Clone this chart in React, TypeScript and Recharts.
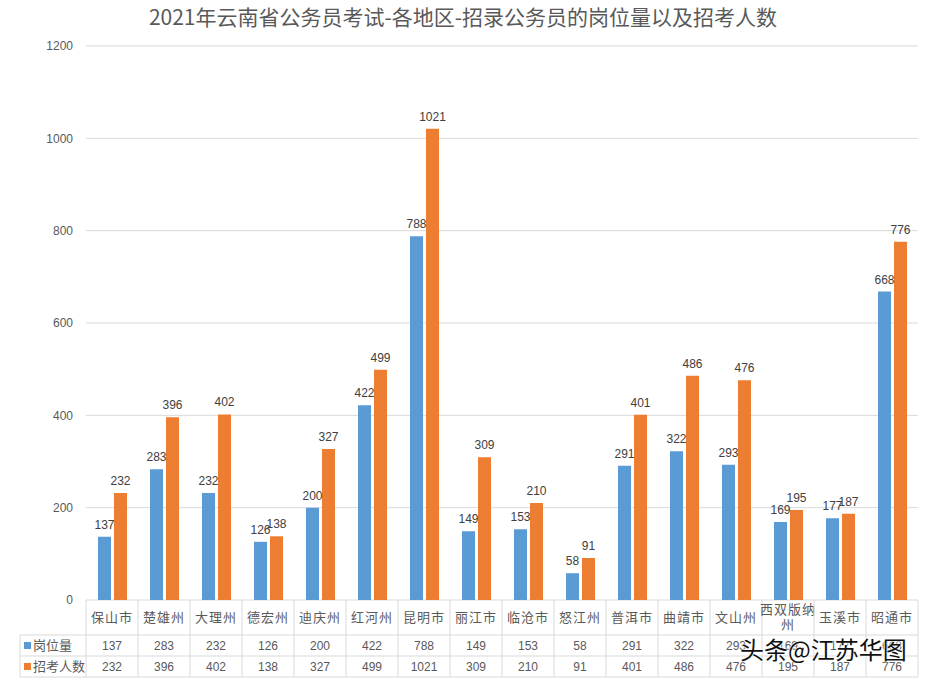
import React from "react";
import { BarChart, Bar, XAxis, YAxis, CartesianGrid, LabelList } from "recharts";

const regions = [
  "保山市", "楚雄州", "大理州", "德宏州", "迪庆州", "红河州", "昆明市", "丽江市",
  "临沧市", "怒江州", "普洱市", "曲靖市", "文山州", "西双版纳州", "玉溪市", "昭通市",
];
const posts = [137, 283, 232, 126, 200, 422, 788, 149, 153, 58, 291, 322, 293, 169, 177, 668];
const applicants = [232, 396, 402, 138, 327, 499, 1021, 309, 210, 91, 401, 486, 476, 195, 187, 776];
const yTicks = [0, 200, 400, 600, 800, 1000, 1200];

const data = regions.map((name, i) => ({ name, posts: posts[i], applicants: applicants[i] }));

const W = 926;
const H = 681;
const TOP = 46;
const LEFT = 86;
const RIGHT = 8;
const BOTTOM = 81;
const PLOT_W = W - LEFT - RIGHT;
const CELL = PLOT_W / regions.length;
const ROW_CAT = 35;
const ROW_VAL = 21;
const TABLE_LEFT = 20;

const BLUE = "#5B9BD5";
const ORANGE = "#ED7D31";
const LINE = "#D9D9D9";
const TEXT = "#595959";
const FONT = '"Noto Sans CJK SC", "Noto Sans", sans-serif';
const NUM_FONT = '"Liberation Sans", "Noto Sans", sans-serif';

function TableTick(props: any) {
  const { x, y, index, payload } = props;
  const name: string = payload.value;
  const left = x - CELL / 2;
  const right = x + CELL / 2;
  const yCat = y + ROW_CAT;
  const yPost = yCat + ROW_VAL;
  const yApp = yPost + ROW_VAL;
  const lines = name.length > 4 ? [name.slice(0, 4), name.slice(4)] : [name];

  return (
    <g>
      <line x1={left} y1={y} x2={left} y2={yApp} stroke={LINE} />
      {index === regions.length - 1 && <line x1={right} y1={y} x2={right} y2={yApp} stroke={LINE} />}
      {index === 0 && (
        <g>
          <line x1={TABLE_LEFT} y1={yCat} x2={W - RIGHT} y2={yCat} stroke={LINE} />
          <line x1={TABLE_LEFT} y1={yPost} x2={W - RIGHT} y2={yPost} stroke={LINE} />
          <line x1={TABLE_LEFT} y1={yApp} x2={W - RIGHT} y2={yApp} stroke={LINE} />
          <line x1={TABLE_LEFT} y1={yCat} x2={TABLE_LEFT} y2={yApp} stroke={LINE} />
          <rect x={24} y={yCat + 7} width={7} height={7} fill={BLUE} />
          <text x={33} y={yCat + 15} fill={TEXT} fontSize={13} fontFamily={FONT}>岗位量</text>
          <rect x={24} y={yPost + 7} width={7} height={7} fill={ORANGE} />
          <text x={33} y={yPost + 15} fill={TEXT} fontSize={13} fontFamily={FONT}>招考人数</text>
        </g>
      )}
      {lines.length === 1 ? (
        <text x={x} y={y + 22} textAnchor="middle" fill={TEXT} fontSize={13} fontFamily={FONT} letterSpacing={1}>
          {name}
        </text>
      ) : (
        lines.map((t, k) => (
          <text key={k} x={x} y={y + 14 + k * 15} textAnchor="middle" fill={TEXT} fontSize={13} fontFamily={FONT} letterSpacing={1}>
            {t}
          </text>
        ))
      )}
      <text x={x} y={yCat + 15} textAnchor="middle" fill={TEXT} fontSize={12} fontFamily={NUM_FONT}>
        {posts[index]}
      </text>
      <text x={x} y={yPost + 15} textAnchor="middle" fill={TEXT} fontSize={12} fontFamily={NUM_FONT}>
        {applicants[index]}
      </text>
    </g>
  );
}

export default function App() {
  return (
    <div style={{ position: "fixed", left: 0, top: 0, width: W, height: H, background: "#fff" }}>
      <div
        style={{
          position: "absolute",
          top: 3,
          left: 0,
          width: W,
          textAlign: "center",
          fontFamily: FONT,
          fontSize: 21,
          color: TEXT,
          lineHeight: "26px",
        }}
      >
        2021年云南省公务员考试-各地区-招录公务员的岗位量以及招考人数
      </div>
      <BarChart
        width={W}
        height={H}
        data={data}
        margin={{ top: TOP, right: RIGHT, bottom: 0, left: 0 }}
        barSize={13}
        barGap={3}
      >
        <CartesianGrid vertical={false} stroke={LINE} />
        <YAxis
          width={LEFT}
          domain={[0, 1200]}
          ticks={yTicks}
          axisLine={false}
          tickLine={false}
          tickMargin={7}
          tick={{ fill: TEXT, fontSize: 12, fontFamily: NUM_FONT }}
        />
        <XAxis
          dataKey="name"
          height={BOTTOM}
          interval={0}
          axisLine={false}
          tickLine={false}
          tickSize={0}
          tickMargin={0}
          tick={<TableTick />}
        />
        <Bar dataKey="posts" fill={BLUE} isAnimationActive={false}>
          <LabelList dataKey="posts" position="top" offset={8} fill="#404040" fontSize={12} fontFamily={NUM_FONT} />
        </Bar>
        <Bar dataKey="applicants" fill={ORANGE} isAnimationActive={false}>
          <LabelList dataKey="applicants" position="top" offset={8} fill="#404040" fontSize={12} fontFamily={NUM_FONT} />
        </Bar>
      </BarChart>
      <div
        style={{
          position: "absolute",
          left: 740,
          top: 631,
          fontFamily: FONT,
          fontSize: 24,
          color: "#111",
          textShadow: "0 0 2px #fff, 0 0 2px #fff, 0 0 2px #fff",
          whiteSpace: "nowrap",
        }}
      >
        头条@江苏华图
      </div>
    </div>
  );
}
